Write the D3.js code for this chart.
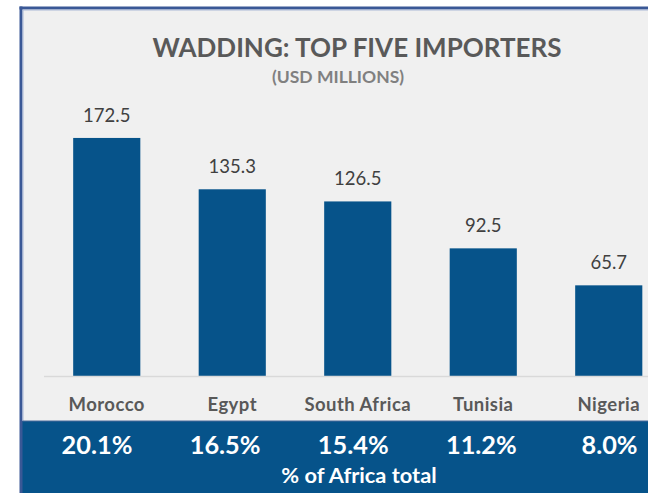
<!DOCTYPE html>
<html>
<head>
<meta charset="utf-8">
<script src="https://cdn.jsdelivr.net/npm/d3@7"></script>
<style>
  html, body { margin: 0; padding: 0; background: #ffffff; }
  svg { display: block; }
  text { font-family: Lato, "Open Sans", "DejaVu Sans", sans-serif; }
</style>
</head>
<body>
<svg id="chart" width="648" height="493"></svg>
<script>
// Wadding imports, top five African importers (USD millions)
const countries = ["Morocco", "Egypt", "South Africa", "Tunisia", "Nigeria"];
const importsUsdM = [172.5, 135.3, 126.5, 92.5, 65.7];
const shareOfAfrica = ["20.1%", "16.5%", "15.4%", "11.2%", "8.0%"];
const titleText = "WADDING: TOP FIVE IMPORTERS";
const subtitleText = "(USD MILLIONS)";
const footerText = "% of Africa total";

const W = 648, H = 493;
const blue = "#06538a";
const frame = "#3a5896";

const svg = d3.select("#chart");

// panel background and frame
svg.append("rect").attr("x", 22).attr("y", 8).attr("width", W - 22).attr("height", 414)
  .attr("fill", "#f0f0f0");
svg.append("rect").attr("x", 22).attr("y", 421).attr("width", W - 22).attr("height", H - 421)
  .attr("fill", blue);
svg.append("line").attr("x1", 19.5).attr("x2", W).attr("y1", 8).attr("y2", 8)
  .attr("stroke", frame).attr("stroke-width", 3);
svg.append("line").attr("x1", 21).attr("x2", 21).attr("y1", 6.5).attr("y2", H)
  .attr("stroke", frame).attr("stroke-width", 3);
svg.append("line").attr("x1", 22.5).attr("x2", W).attr("y1", 10).attr("y2", 10)
  .attr("stroke", "#a9b8d6").attr("stroke-width", 1);
svg.append("line").attr("x1", 23).attr("x2", 23).attr("y1", 10).attr("y2", 421)
  .attr("stroke", "#a9b8d6").attr("stroke-width", 1);
svg.append("line").attr("x1", 22.5).attr("x2", W).attr("y1", 421).attr("y2", 421)
  .attr("stroke", "#4a6a9a").attr("stroke-width", 1);

// scales
const x = d3.scaleBand().domain(countries).range([44, 671.5])
  .paddingInner(0.465).paddingOuter(0.2325);
const y = d3.scaleLinear().domain([0, 200]).range([376, 100]);
const xShare = d3.scalePoint().domain(countries).range([97, 609.5]);

const data = countries.map((c, i) => ({ country: c, value: importsUsdM[i], share: shareOfAfrica[i] }));

// titles
svg.append("text").attr("x", 357).attr("y", 56.5).attr("text-anchor", "middle")
  .attr("font-size", 26).attr("font-weight", 700).attr("fill", "#595959").text(titleText);
svg.append("text").attr("x", 338).attr("y", 82.5).attr("text-anchor", "middle")
  .attr("font-size", 17.5).attr("font-weight", 700).attr("fill", "#808080").text(subtitleText);

// bars
svg.append("g").selectAll("rect").data(data).join("rect")
  .attr("x", d => x(d.country))
  .attr("y", d => y(d.value))
  .attr("width", x.bandwidth())
  .attr("height", d => y(0) - y(d.value))
  .attr("fill", blue);

// category axis
const axis = svg.append("g").attr("transform", `translate(0,${y(0)})`)
  .call(d3.axisBottom(x).tickSize(0).tickPadding(0));
axis.select(".domain").attr("stroke", "#d9d9d9").attr("stroke-width", 1.5)
  .attr("d", `M44,0.5H${W}`);
axis.selectAll(".tick text")
  .attr("y", 34.7).attr("dy", 0)
  .attr("font-family", 'Lato, "Open Sans", sans-serif')
  .attr("font-size", 18.5).attr("font-weight", 700).attr("fill", "#595959")
  .attr("letter-spacing", 0.45);

// value labels
svg.append("g").selectAll("text").data(data).join("text")
  .attr("x", d => x(d.country) + x.bandwidth() / 2)
  .attr("y", d => y(d.value) - 16)
  .attr("text-anchor", "middle")
  .attr("font-size", 18.5).attr("fill", "#404040")
  .text(d => d.value.toFixed(1));

// shares of African total
svg.append("g").selectAll("text").data(data).join("text")
  .attr("x", d => xShare(d.country))
  .attr("y", 454)
  .attr("text-anchor", "middle")
  .attr("font-size", 25.3).attr("font-weight", 700).attr("fill", "#ffffff")
  .text(d => d.share);
svg.append("text").attr("x", 359).attr("y", 483).attr("text-anchor", "middle")
  .attr("font-size", 21.8).attr("font-weight", 700).attr("fill", "#ffffff").text(footerText);
</script>
</body>
</html>
